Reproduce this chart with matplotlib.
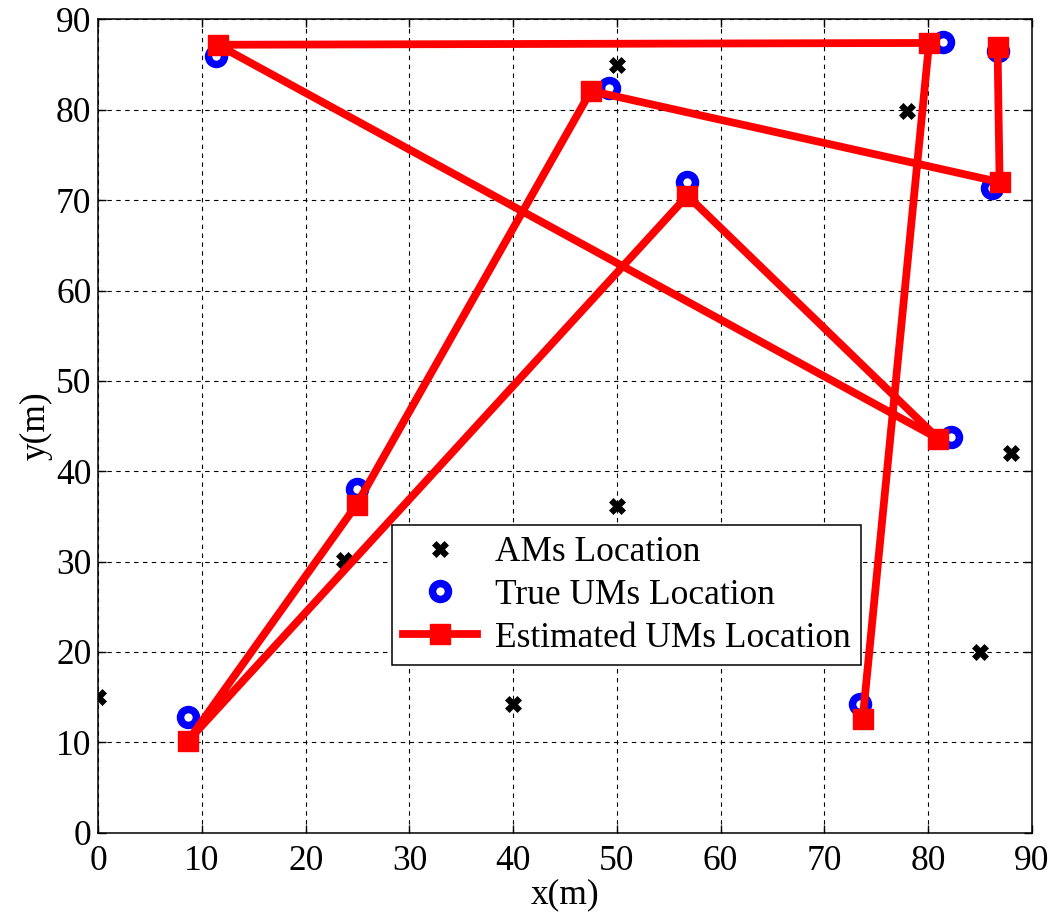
import matplotlib.pyplot as plt

# AM (anchor) positions
am_x = [0, 23.7, 40, 50, 50, 78, 85, 88]
am_y = [15, 30.2, 14.2, 36.2, 85, 79.9, 20, 42]

# true UM positions
true_x = [73.4, 81.4, 11.3, 82.2, 56.8, 8.6, 24.9, 49.2, 86.2, 86.7]
true_y = [14.3, 87.5, 86.0, 43.8, 72.0, 12.8, 38.0, 82.4, 71.4, 86.5]

# estimated UM positions (in drawing order)
est_x = [73.7, 80.1, 11.5, 81.0, 56.8, 8.6, 24.9, 47.5, 86.9, 86.7]
est_y = [12.6, 87.4, 87.2, 43.6, 70.5, 10.1, 36.3, 82.1, 72.0, 87.0]

ticks = list(range(0, 91, 10))

plt.rcParams['font.family'] = ['Liberation Serif', 'DejaVu Serif']
plt.rcParams['font.size'] = 25.5

fig = plt.figure(figsize=(10.54, 9.18), dpi=100)
ax = fig.add_axes([0.0933, 0.0929, 0.9789 - 0.0933, 0.9788 - 0.0929])

ax.plot(am_x, am_y, linestyle='none', marker='X', color='k', markersize=11, markeredgewidth=0.5,
        label='AMs Location')
ax.plot(true_x, true_y, linestyle='none', marker='o', markerfacecolor='none', markeredgecolor='b',
        markersize=11.5, markeredgewidth=5.4, label='True UMs Location')
ax.plot(est_x, est_y, color='r', linewidth=5.6, marker='s', markersize=15, markerfacecolor='r',
        markeredgecolor='r', label='Estimated UMs Location')

ax.set_xlim(0, 90)
ax.set_ylim(0, 90)
ax.set_xticks(ticks)
ax.set_yticks(ticks)
ax.grid(True, color='k', linestyle=(0, (4, 4)), linewidth=0.8)
ax.tick_params(direction='in', top=True, right=True, length=6, width=1)
ax.tick_params(axis='x', pad=9)
ax.tick_params(axis='y', pad=5)
for s in ax.spines.values():
    s.set_linewidth(1.1)

ax.set_xlabel('x(m)', labelpad=0)
ax.set_ylabel('y(m)', labelpad=2)

leg = ax.legend(loc='upper left', bbox_to_anchor=(0.3147, 0.378), borderaxespad=0,
                fancybox=False, framealpha=1, edgecolor='k', handlelength=2.1,
                labelspacing=0.28, borderpad=0.3, handletextpad=0.5)
leg.get_frame().set_linewidth(1.1)

fig.savefig('out.png', dpi=100)
